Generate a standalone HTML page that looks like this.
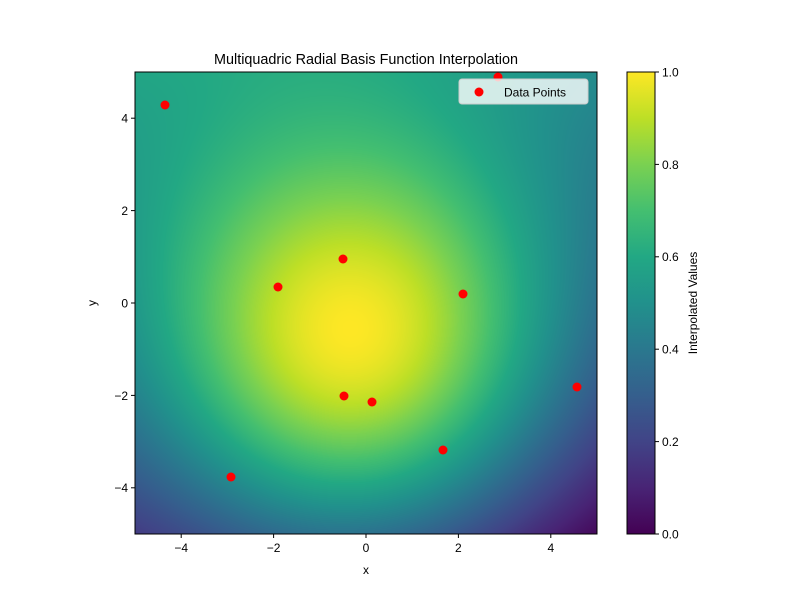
<!DOCTYPE html>
<html><head><meta charset="utf-8"><style>
body{margin:0;background:#fff;width:800px;height:600px;overflow:hidden;font-family:"Liberation Sans","DejaVu Sans",sans-serif;}
#c{position:absolute;left:135px;top:72px;}
svg{position:absolute;left:0;top:0;}
</style></head><body>
<canvas id="c" width="462" height="462"></canvas>
<svg width="800" height="600" xmlns="http://www.w3.org/2000/svg" font-family="Liberation Sans, DejaVu Sans, sans-serif" font-size="12">
<defs><linearGradient id="vir" x1="0" y1="1" x2="0" y2="0">
<stop offset="0" stop-color="#440154"/><stop offset="0.1" stop-color="#482475"/><stop offset="0.2" stop-color="#414487"/><stop offset="0.3" stop-color="#355f8d"/><stop offset="0.4" stop-color="#2a788e"/><stop offset="0.5" stop-color="#21918c"/><stop offset="0.6" stop-color="#22a884"/><stop offset="0.7" stop-color="#44bf70"/><stop offset="0.8" stop-color="#7ad151"/><stop offset="0.9" stop-color="#bddf26"/><stop offset="1" stop-color="#fde725"/></linearGradient></defs>
<rect x="135" y="72" width="462" height="462" fill="none" stroke="#000" stroke-width="1"/>
<g fill="#ff0000">
<circle cx="165" cy="105" r="4.5"/><circle cx="498" cy="77" r="4.5"/><circle cx="278" cy="287" r="4.5"/><circle cx="343" cy="259" r="4.5"/><circle cx="463" cy="294" r="4.5"/><circle cx="577" cy="387" r="4.5"/><circle cx="344" cy="396" r="4.5"/><circle cx="372" cy="402" r="4.5"/><circle cx="443" cy="450" r="4.5"/><circle cx="231" cy="477" r="4.5"/>
</g>
<g stroke="#000">
<line x1="181.2" y1="534" x2="181.2" y2="538"/><line x1="273.6" y1="534" x2="273.6" y2="538"/><line x1="366" y1="534" x2="366" y2="538"/><line x1="458.4" y1="534" x2="458.4" y2="538"/><line x1="550.8" y1="534" x2="550.8" y2="538"/>
<line x1="131" y1="118.2" x2="135" y2="118.2"/><line x1="131" y1="210.6" x2="135" y2="210.6"/><line x1="131" y1="303" x2="135" y2="303"/><line x1="131" y1="395.4" x2="135" y2="395.4"/><line x1="131" y1="487.8" x2="135" y2="487.8"/>
</g>
<g text-anchor="middle">
<text x="181.2" y="552">−4</text><text x="273.6" y="552">−2</text><text x="366" y="552">0</text><text x="458.4" y="552">2</text><text x="550.8" y="552">4</text>
<text x="366" y="574">x</text>
<text x="366" y="64" font-size="14.4">Multiquadric Radial Basis Function Interpolation</text>
</g>
<g text-anchor="end">
<text x="128" y="122.5">4</text><text x="128" y="215">2</text><text x="128" y="307.5">0</text><text x="128" y="400">−2</text><text x="128" y="492">−4</text>
</g>
<text transform="translate(96,303) rotate(-90)" text-anchor="middle">y</text>
<rect x="459" y="79" width="129" height="25" rx="3" fill="#fff" fill-opacity="0.8" stroke="#ccc"/>
<circle cx="479" cy="92" r="4.5" fill="#ff0000"/>
<text x="504" y="96.5">Data Points</text>
<rect x="627" y="72" width="28" height="462" fill="url(#vir)" stroke="#000"/>
<g stroke="#000"><line x1="655" y1="534" x2="659" y2="534"/><line x1="655" y1="441.6" x2="659" y2="441.6"/><line x1="655" y1="349.2" x2="659" y2="349.2"/><line x1="655" y1="256.8" x2="659" y2="256.8"/><line x1="655" y1="164.4" x2="659" y2="164.4"/><line x1="655" y1="72" x2="659" y2="72"/></g>
<text x="662" y="538.5">0.0</text><text x="662" y="446">0.2</text><text x="662" y="353.5">0.4</text><text x="662" y="261">0.6</text><text x="662" y="169">0.8</text><text x="662" y="76.5">1.0</text>
<text transform="translate(697,303) rotate(-90)" text-anchor="middle">Interpolated Values</text>
</svg>
<script>
var V=[[68,1,84],[72,36,117],[65,68,135],[53,95,141],[42,120,142],[33,145,140],[34,168,132],[68,191,112],[122,209,81],[189,223,38],[253,231,37]];
function cm(v){v=Math.max(0,Math.min(1,v))*10;var i=Math.min(9,Math.floor(v)),t=v-i,a=V[i],b=V[i+1];return [a[0]+(b[0]-a[0])*t,a[1]+(b[1]-a[1])*t,a[2]+(b[2]-a[2])*t];}
var c=document.getElementById('c'),g=c.getContext('2d'),im=g.createImageData(462,462),d=im.data;
for(var py=0;py<462;py++)for(var px=0;px<462;px++){
var x=-5+px/46.2,y=5-py/46.2,u=(x+5)/10,w=(y+5)/10;
var base=(1-w)*((1-u)*0.05+u*(-0.08))+w*((1-u)*0.55+u*0.45);
var dd=(x+0.2)*(x+0.2)+(y+1.2)*(y+1.2);
var v=base+0.8*Math.exp(-dd/20);
var col=cm(v),k=(py*462+px)*4;d[k]=col[0];d[k+1]=col[1];d[k+2]=col[2];d[k+3]=255;}
g.putImageData(im,0,0);
</script>
</body></html>
